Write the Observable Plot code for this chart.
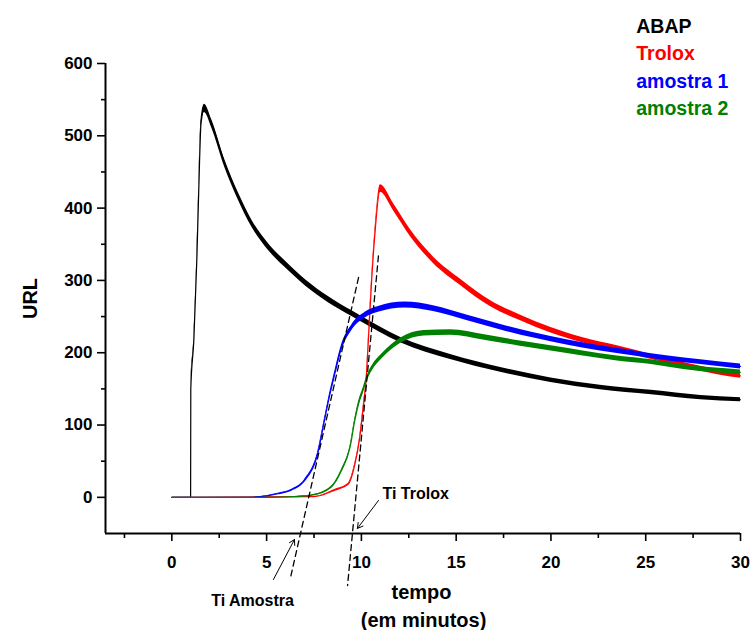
<!DOCTYPE html>
<html>
<head>
<meta charset="utf-8">
<script src="https://cdn.jsdelivr.net/npm/d3@7"></script>
<script src="https://cdn.jsdelivr.net/npm/@observablehq/plot@0.6"></script>
<style>
  html, body { margin: 0; padding: 0; background: #fff; }
</style>
</head>
<body>
<div id="chart"></div>
<script>
// ---- data ----
const abapX = [0, 0.99, 1.0, 1.16, 1.32, 1.42, 1.54, 1.72, 2.1, 2.79, 3.53, 4.21, 5.1, 6.16, 7.37, 8.58, 9.84, 12.1, 14.7, 17.4, 20.0, 22.6, 25.3, 27.9, 30];
const abapY = [0, 0, 150, 217, 330, 425, 517, 538, 517, 462, 415, 379, 346, 318, 290, 268, 249, 217, 194, 176, 162, 152, 145, 138, 135];

const troloxX = [0, 7.5, 8.6, 9.3, 9.65, 9.9, 10.1, 10.26, 10.35, 10.53, 10.7, 11.0, 11.7, 12.6, 13.8, 15.3, 16.8, 18.4, 20.0, 21.7, 23.5, 25.3, 27.0, 28.8, 30];
const troloxY = [0, 1, 10, 18, 45, 80, 125, 165, 208, 295, 360, 427, 401, 365, 328, 296, 268, 248, 231, 217, 206, 194, 183, 173, 168];

const amostra1X = [0, 4.0, 5.0, 5.6, 6.3, 7.0, 7.7, 8.05, 8.3, 8.6, 8.95, 9.5, 10.2, 10.9, 12.3, 13.8, 15.6, 17.4, 19.1, 20.9, 22.6, 24.4, 26.2, 27.9, 30];
const amostra1Y = [0, 0, 2, 5, 10, 23, 61, 106, 138, 171, 207, 235, 252, 260, 266, 261, 248, 235, 224, 214, 206, 199, 192, 187, 181];

const amostra2X = [0, 5.0, 6.5, 7.4, 8.4, 8.95, 9.4, 9.65, 9.9, 10.05, 10.3, 10.6, 11.05, 12.1, 13.3, 14.7, 16.5, 18.3, 20.0, 21.7, 23.5, 25.3, 27.0, 30];
const amostra2Y = [0, 0, 1, 3, 14, 37, 69, 106, 134, 145, 165, 180, 194, 217, 227, 228, 221, 213, 206, 199, 192, 187, 180, 173];

const seriesNames = ["ABAP", "Trolox", "amostra 1", "amostra 2"];
const seriesColors = ["#000000", "#ff0000", "#0000ff", "#008000"];

const xTicks = [0, 5, 10, 15, 20, 25, 30];
const xMinorTicks = [-2.5, 2.5, 7.5, 12.5, 17.5, 22.5, 27.5];
const yTicks = [0, 100, 200, 300, 400, 500, 600];
const yMinorTicks = [50, 150, 250, 350, 450, 550];

// tangent (dashed) lines used to read the induction times
const tangentAmostra = [{x: 9.85, y: 304}, {x: 6.26, y: -111}];
const tangentTrolox = [{x: 10.90, y: 334}, {x: 9.27, y: -122}];

// annotations
const arrowTrolox = [{x1: 10.90, y1: -4.4, x2: 9.79, y2: -43}];
const arrowAmostra = [{x1: 5.36, y1: -113.6, x2: 6.47, y2: -58.3}];
const labelTrolox = [{x: 11.11, y: 5.3, text: "Ti Trolox"}];
const labelAmostra = [{x: 4.26, y: -142.7, text: "Ti Amostra"}];
const xTitle = [{x: 13.17, y: -131.6, text: "tempo"}, {x: 13.28, y: -170.3, text: "(em minutos)"}];
const yTitle = [{x: -7.46, y: 275, text: "URL"}];
const legendX = 24.5;
const legendY = [650.5, 613, 575, 538];

// ---- build tables ----
const xs = [abapX, troloxX, amostra1X, amostra2X];
const ys = [abapY, troloxY, amostra1Y, amostra2Y];
const series = seriesNames.map((name, i) => ({
  name, color: seriesColors[i],
  data: xs[i].map((x, j) => ({x, y: ys[i][j]}))
}));

const noise = d => 0.25 * Math.sqrt(Math.max(d.y, 0));
const drawOrder = [0, 1, 2, 3];

const font = "'Liberation Sans', Arial, Helvetica, sans-serif";

const marks = [];
for (const i of drawOrder) {
  const s = series[i];
  marks.push(Plot.areaY(s.data, {
    x: "x", y1: d => d.y - noise(d), y2: d => d.y + noise(d),
    fill: s.color, curve: "monotone-x"
  }));
  marks.push(Plot.line(s.data, {
    x: "x", y: "y", stroke: s.color, strokeWidth: 1.2, curve: "monotone-x"
  }));
}

marks.push(
  Plot.line(tangentAmostra, {x: "x", y: "y", stroke: "#000", strokeWidth: 1.3, strokeDasharray: "6,4"}),
  Plot.line(tangentTrolox, {x: "x", y: "y", stroke: "#000", strokeWidth: 1.3, strokeDasharray: "6,4"}),
  Plot.arrow(arrowTrolox, {x1: "x1", y1: "y1", x2: "x2", y2: "y2", stroke: "#000", strokeWidth: 1, headLength: 9}),
  Plot.arrow(arrowAmostra, {x1: "x1", y1: "y1", x2: "x2", y2: "y2", stroke: "#000", strokeWidth: 1, headLength: 9}),
  Plot.text(labelTrolox, {x: "x", y: "y", text: "text", textAnchor: "start", fontSize: 16, fontWeight: "bold", fill: "#000"}),
  Plot.text(labelAmostra, {x: "x", y: "y", text: "text", textAnchor: "middle", fontSize: 16, fontWeight: "bold", fill: "#000"}),
  Plot.text(xTitle, {x: "x", y: "y", text: "text", textAnchor: "middle", fontSize: 20, fontWeight: "bold", fill: "#000"}),
  Plot.text(yTitle, {x: "x", y: "y", text: "text", textAnchor: "middle", rotate: -90, fontSize: 20, fontWeight: "bold", fill: "#000"})
);

seriesNames.forEach((name, i) => {
  marks.push(Plot.text([name], {x: legendX, y: legendY[i], text: d => d, textAnchor: "start",
    fontSize: 19.5, fontWeight: "bold", fill: seriesColors[i]}));
});

// axes
marks.push(
  Plot.axisY({ticks: yTicks, tickSize: 8, tickPadding: 5, fontSize: 17, fontWeight: "bold", strokeWidth: 1.6, label: null}),
  Plot.axisY({ticks: yMinorTicks, tickSize: 4, strokeWidth: 1.6, tickFormat: () => "", label: null}),
  Plot.axisX({ticks: xTicks, tickSize: 8, tickPadding: 14, fontSize: 17, fontWeight: "bold", strokeWidth: 1.6, label: null}),
  Plot.axisX({ticks: xMinorTicks, tickSize: 5, strokeWidth: 1.6, tickFormat: () => "", label: null}),
  Plot.ruleX([-3.5], {y1: -50, y2: 600, stroke: "#000", strokeWidth: 2}),
  Plot.ruleY([-50], {x1: -3.5, x2: 30, stroke: "#000", strokeWidth: 2})
);

const chart = Plot.plot({
  width: 753,
  height: 630,
  marginLeft: 105,
  marginRight: 13,
  marginTop: 63,
  marginBottom: 97,
  x: {domain: [-3.5, 30], axis: null},
  y: {domain: [-50, 600], axis: null},
  style: {fontFamily: font, background: "#fff", color: "#000", overflow: "visible"},
  marks
});
document.getElementById("chart").appendChild(chart);
</script>
</body>
</html>
